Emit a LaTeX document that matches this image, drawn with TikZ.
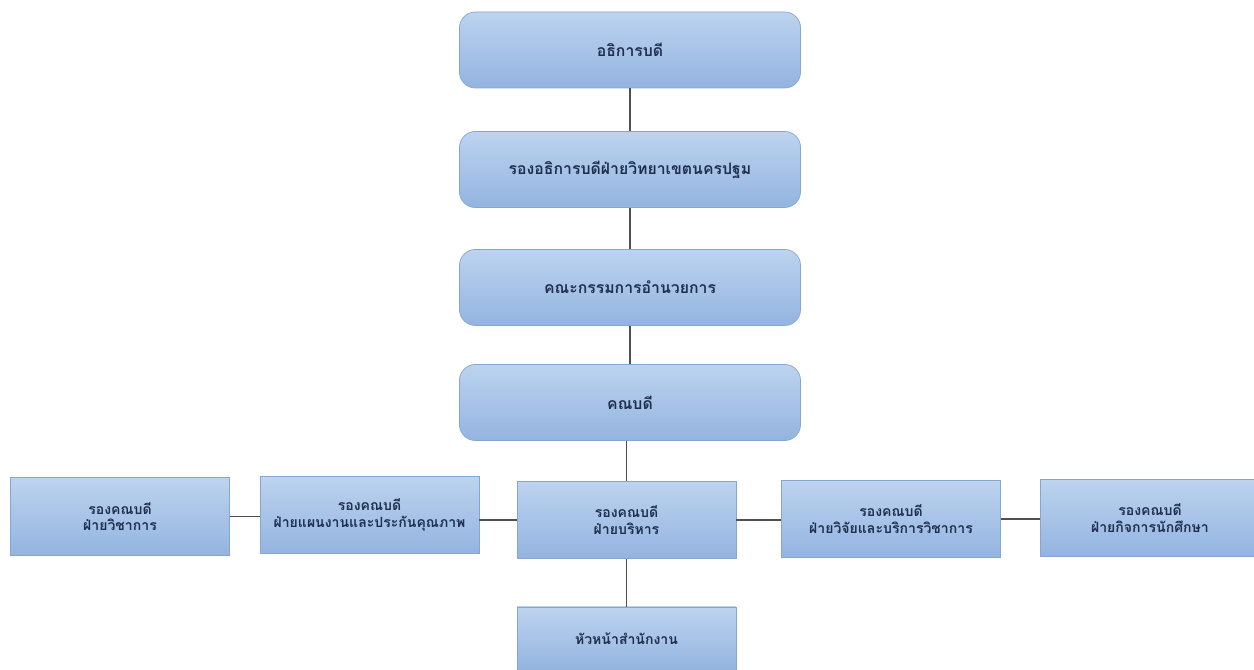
\documentclass[tikz,border=0pt]{standalone}
\usepackage{fontspec}
\newfontfamily\thaifont[Script=Thai]{Loma}
\usetikzlibrary{positioning}

\definecolor{boxtop}{HTML}{BDD3EF}
\definecolor{boxbot}{HTML}{93B4E0}
\definecolor{boxline}{HTML}{86A6D2}
\definecolor{boxtext}{HTML}{1F2F4F}
\definecolor{linkline}{HTML}{505050}

\tikzset{
  headbox/.style={draw=boxline, rounded corners=9pt, top color=boxtop, bottom color=boxbot,
    minimum width=6.82cm, minimum height=1.52cm, font=\thaifont\bfseries\small, text=boxtext},
  deputybox/.style={draw=boxline, top color=boxtop, bottom color=boxbot,
    minimum width=4.38cm, minimum height=1.55cm, align=center, font=\thaifont\bfseries\footnotesize, text=boxtext},
  link/.style={draw=linkline, line width=1pt}
}

\begin{document}
\begin{tikzpicture}
                \useasboundingbox (0,0) rectangle (25.08,13.4);

                % top chain
                \node[headbox] (rector) at (12.6, 12.4) {อธิการบดี};
                \node[headbox] (vicerector) at (12.6, 10.01) {รองอธิการบดีฝ่ายวิทยาเขตนครปฐม};
                \node[headbox] (committee) at (12.6, 7.65) {คณะกรรมการอำนวยการ};
                \node[headbox] (dean) at (12.6, 5.35) {คณบดี};

                % deputy deans
                \node[deputybox] (academic) at (2.4, 3.07) {รองคณบดี\\ฝ่ายวิชาการ};
                \node[deputybox] (planning) at (7.39, 3.1) {รองคณบดี\\ฝ่ายแผนงานและประกันคุณภาพ};
                \node[deputybox] (admin) at (12.53, 3.0) {รองคณบดี\\ฝ่ายบริหาร};
                \node[deputybox] (research) at (17.82, 3.02) {รองคณบดี\\ฝ่ายวิจัยและบริการวิชาการ};
                \node[deputybox] (student) at (23.0, 3.04) {รองคณบดี\\ฝ่ายกิจการนักศึกษา};

                % office head
                \node[deputybox, minimum height=1.26cm] (office) at (12.53, 0.63) {หัวหน้าสำนักงาน};

                % links
                \draw[link] (rector) -- (vicerector);
                \draw[link] (vicerector) -- (committee);
                \draw[link] (committee) -- (dean);
                \draw[link] (dean.south -| admin.north) -- (admin.north);
                \draw[link] (admin) -- (office);
                \draw[link] (academic.east) -- (academic.east -| planning.west);
                \draw[link] (planning.east |- admin.west) -- (admin.west);
                \draw[link] (admin.east) -- (admin.east -| research.west);
                \draw[link] (research.east) -- (research.east -| student.west);
\end{tikzpicture}
\end{document}
